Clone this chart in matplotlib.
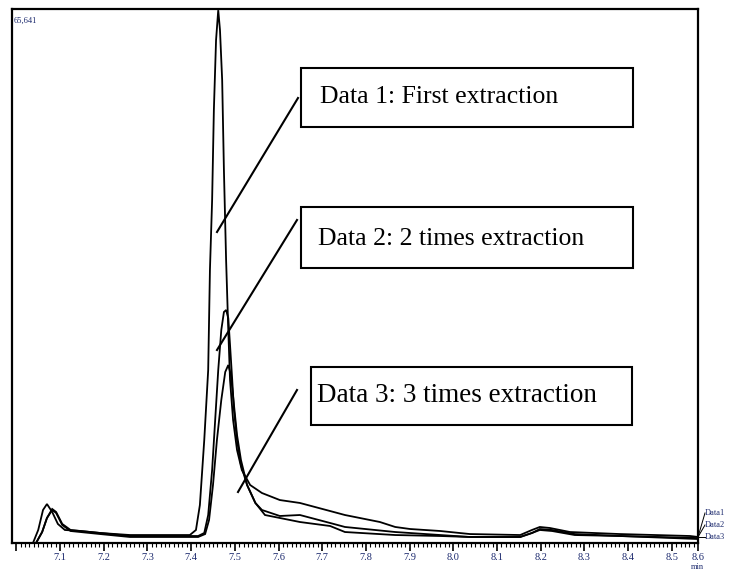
import matplotlib
matplotlib.use("Agg")
import matplotlib.pyplot as plt
from matplotlib.patches import Rectangle
from matplotlib.lines import Line2D
import numpy as np

# ---------------- data (retention time in min, intensity) ----------------
t1 = [6.99, 7.038, 7.050, 7.061, 7.070, 7.082, 7.095, 7.111, 7.146, 7.192, 7.260,
      7.397, 7.411, 7.420, 7.430, 7.439, 7.443, 7.448, 7.452, 7.457, 7.462, 7.466,
      7.471, 7.475, 7.480, 7.485, 7.489, 7.496, 7.505, 7.516, 7.535, 7.562, 7.603,
      7.649, 7.718, 7.752, 7.832, 7.867, 7.901, 7.970, 8.038, 8.153, 8.180, 8.198,
      8.221, 8.267, 8.381, 8.542, 8.56]
y1 = [0, 0, 1600, 4060, 4790, 3810, 2340, 1600, 1475, 1230, 980,
      980, 1600, 4670, 12660, 21260, 33550, 42150, 53220, 61820, 65500, 63050,
      56900, 45840, 34780, 26180, 20030, 15120, 11430, 8970, 7130, 6145, 5280,
      4920, 3930, 3440, 2580, 1970, 1720, 1475, 1100, 980, 1600, 1970,
      1845, 1350, 1100, 860, 740]

t2 = [6.99, 7.045, 7.059, 7.070, 7.082, 7.091, 7.105, 7.124, 7.192, 7.260, 7.416,
      7.430, 7.439, 7.448, 7.455, 7.462, 7.469, 7.475, 7.480, 7.485, 7.489, 7.494,
      7.498, 7.505, 7.514, 7.528, 7.547, 7.562, 7.603, 7.649, 7.718, 7.752, 7.867,
      7.970, 8.038, 8.153, 8.180, 8.198, 8.226, 8.278, 8.381, 8.56]
y2 = [0, 0, 1350, 3070, 4180, 3810, 2340, 1600, 1230, 860, 860,
      1230, 3440, 8970, 15120, 21260, 26180, 28390, 28640, 27650, 24330, 20030,
      16350, 12660, 9590, 7130, 4920, 4060, 3320, 3440, 2460, 1970, 1350,
      980, 740, 740, 1230, 1720, 1600, 1100, 860, 610]

t3 = [6.99, 7.045, 7.059, 7.070, 7.082, 7.091, 7.105, 7.124, 7.192, 7.260, 7.416,
      7.432, 7.441, 7.450, 7.459, 7.469, 7.478, 7.485, 7.491, 7.498, 7.505, 7.514,
      7.528, 7.547, 7.569, 7.603, 7.649, 7.718, 7.752, 7.867, 7.970, 8.038, 8.153,
      8.180, 8.198, 8.226, 8.278, 8.381, 8.56]
y3 = [0, 0, 1350, 3070, 4060, 3690, 2210, 1475, 1100, 740, 740,
      1100, 2830, 7130, 12660, 17580, 21020, 21880, 20650, 16960, 13270, 10200,
      7130, 4920, 3440, 3075, 2580, 2090, 1350, 980, 860, 740, 740,
      1230, 1600, 1475, 980, 860, 490]

y_max = 65641
x_min, x_max = 6.99, 8.56
major_ticks = [7.0, 7.1, 7.2, 7.3, 7.4, 7.5, 7.6, 7.7, 7.8, 7.9, 8.0, 8.1, 8.2, 8.3, 8.4, 8.5]
major_labels = ["", "7.1", "7.2", "7.3", "7.4", "7.5", "7.6", "7.7", "7.8", "7.9",
                "8.0", "8.1", "8.2", "8.3", "8.4", "8.5"]
end_label = "8.6"
x_unit = "min"
y_max_label = "65,641"
box_texts = ["Data 1: First extraction", "Data 2: 2 times extraction", "Data 3: 3 times extraction"]
series_names = ["Data1", "Data2", "Data3"]

# ---------------- figure ----------------
W, H = 732, 572
fig = plt.figure(figsize=(W / 100, H / 100), dpi=100)

def fx(px):
    return px / W

def fy(py):
    return 1 - py / H

ax = fig.add_axes([fx(12), fy(543), fx(698) - fx(12), fy(9) - fy(543)])
for t, y in [(t1, y1), (t2, y2), (t3, y3)]:
    ax.plot(t, y, color="black", lw=1.3, solid_joinstyle="miter")

ax.set_xlim(x_min, x_max)
ax.set_ylim(0, y_max)
ax.set_yticks([])
ax.set_xticks(major_ticks + [x_max])
ax.set_xticklabels(major_labels + [end_label], fontfamily="Liberation Serif",
                   fontsize=7.5, color="#1c2a6e")
ax.set_xticks(np.round(np.arange(7.0, 8.56, 0.01), 2), minor=True)
ax.tick_params(axis="x", which="major", direction="out", length=6, width=1.2,
               pad=1.5, color="black")
ax.tick_params(axis="x", which="minor", direction="out", length=3, width=0.8,
               color="black")
for s in ax.spines.values():
    s.set_linewidth(1.6)

ax.text(0.003, 0.985, y_max_label, transform=ax.transAxes, ha="left", va="top",
        fontfamily="Liberation Serif", fontsize=6, color="#1c2a6e")
fig.text(fx(697), fy(567), x_unit, ha="center", va="center",
         fontfamily="Liberation Serif", fontsize=6, color="#1c2a6e")

# right-end series labels
lab_y = [513, 525, 537]
for name, ly in zip(series_names, lab_y):
    fig.text(fx(705), fy(ly), name, ha="left", va="center",
             fontfamily="Liberation Serif", fontsize=6, color="#1c2a6e")
    fig.add_artist(Line2D([fx(698), fx(705)], [fy(537), fy(ly)],
                          color="black", lw=0.7))

# annotation boxes
boxes = [(301, 68, 633, 127), (301, 207, 633, 268), (311, 367, 632, 425)]
text_pos = [(320, 97), (318, 239), (317, 396)]
text_sizes = [18.5, 18.5, 19.5]
for (x0, y0, x1, y1_), txt, (tx, ty), fs in zip(boxes, box_texts, text_pos, text_sizes):
    fig.add_artist(Rectangle((fx(x0), fy(y1_)), fx(x1) - fx(x0), fy(y0) - fy(y1_),
                             transform=fig.transFigure, fill=False,
                             edgecolor="black", lw=1.5))
    fig.text(fx(tx), fy(ty), txt, ha="left", va="center",
             fontfamily="Liberation Serif", fontsize=fs, color="black")

leaders = [((298, 98), (217, 232)), ((297, 220), (217, 350)), ((297, 390), (238, 492))]
for (xa, ya), (xb, yb) in leaders:
    fig.add_artist(Line2D([fx(xa), fx(xb)], [fy(ya), fy(yb)], color="black", lw=1.5))

fig.savefig("out.png", dpi=100)
